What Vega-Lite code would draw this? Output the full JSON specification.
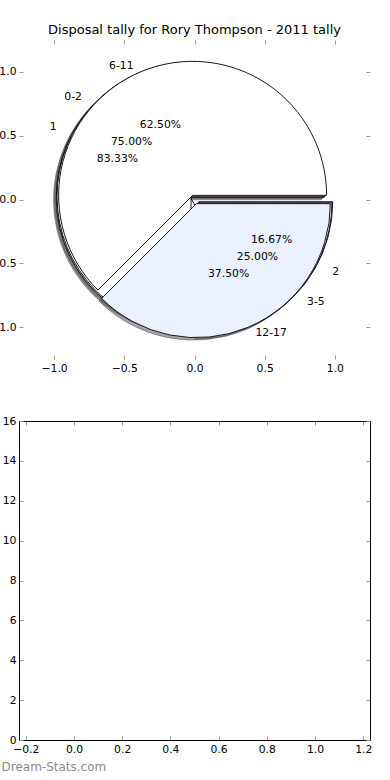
{
  "$schema": "https://vega.github.io/schema/vega-lite/v6.json",
  "autosize": {"type": "none"},
  "padding": {"left": 19, "top": 40, "right": 371, "bottom": 740},
  "bounds": "flush",
  "spacing": 62,
  "config": {
    "view": {"stroke": null},
    "font": "DejaVu Sans",
    "axis": {"grid": false, "labelFont": "DejaVu Sans", "labelFontSize": 10.8, "labelColor": "#000", "tickColor": "#9a9a9a", "tickWidth": 1, "tickSize": -4, "labelPadding": 7, "domainColor": "#000", "domainWidth": 1},
    "text": {"font": "DejaVu Sans", "fontSize": 10.8, "color": "#000"}
  },
  "datasets": {
    "tally": [
      {"pie": "A", "label": "6-11", "value": 0.625, "order": 1},
      {"pie": "A", "label": "12-17", "value": 0.375, "order": 2},
      {"pie": "B", "label": "0-2", "value": 0.75, "order": 1},
      {"pie": "B", "label": "3-5", "value": 0.25, "order": 2},
      {"pie": "C", "label": "1", "value": 0.8333, "order": 1},
      {"pie": "C", "label": "2", "value": 0.1667, "order": 2}
    ]
  },
  "vconcat": [
    {
      "width": 351,
      "height": 319,
      "title": {"text": "Disposal tally for Rory Thompson - 2011 tally", "font": "DejaVu Sans", "fontSize": 13, "fontWeight": "normal", "color": "#000", "offset": 3},
      "data": {"name": "tally"},
      "resolve": {"axis": {"x": "independent", "y": "independent"}},
      "layer": [
        {
          "mark": {"type": "point", "opacity": 0},
          "encoding": {
            "x": {"datum": 0, "type": "quantitative", "scale": {"domain": [-1.25, 1.25], "nice": false, "zero": false}, "axis": {"orient": "bottom", "values": [-1, -0.5, 0, 0.5, 1], "format": ".1f", "title": null, "domain": false}},
            "y": {"datum": 0, "type": "quantitative", "scale": {"domain": [-1.25, 1.25], "nice": false, "zero": false}, "axis": {"orient": "left", "values": [-1, -0.5, 0, 0.5, 1], "format": ".1f", "title": null, "domain": false}}
          }
        },
        {
          "mark": {"type": "point", "opacity": 0},
          "encoding": {
            "x": {"datum": 0, "type": "quantitative", "axis": {"orient": "top", "values": [-1, -0.5, 0, 0.5, 1], "labels": false, "title": null, "domain": false}},
            "y": {"datum": 0, "type": "quantitative", "axis": {"orient": "right", "values": [-1, -0.5, 0, 0.5, 1], "labels": false, "title": null, "domain": false}}
          }
        },
        {
          "transform": [{"filter": "datum.pie === 'C'"}],
          "mark": {"type": "arc", "radius": 134, "fill": "#4d4d4d", "fillOpacity": 0.5, "stroke": "#4d4d4d", "strokeOpacity": 0.5, "strokeWidth": 0.9,
            "xOffset": {"expr": "4.9*cos(PI*(datum.value_start+datum.value_end))-2.8"},
            "yOffset": {"expr": "2.55-4.5*sin(PI*(datum.value_start+datum.value_end))"}},
          "encoding": {
            "theta": {"field": "value", "type": "quantitative", "stack": "normalize", "scale": {"domain": [0, 1], "range": [1.5708, -4.7124]}},
            "order": {"field": "order", "type": "quantitative"},
            "x": {"datum": 0, "type": "quantitative", "axis": null},
            "y": {"datum": 0, "type": "quantitative", "axis": null}
          }
        },
        {
          "transform": [{"filter": "datum.pie === 'B'"}],
          "mark": {"type": "arc", "radius": 134, "fill": "#4d4d4d", "fillOpacity": 0.5, "stroke": "#4d4d4d", "strokeOpacity": 0.5, "strokeWidth": 0.9,
            "xOffset": {"expr": "4.9*cos(PI*(datum.value_start+datum.value_end))-2.8"},
            "yOffset": {"expr": "2.55-4.5*sin(PI*(datum.value_start+datum.value_end))"}},
          "encoding": {
            "theta": {"field": "value", "type": "quantitative", "stack": "normalize"},
            "order": {"field": "order", "type": "quantitative"},
            "x": {"datum": 0, "type": "quantitative", "axis": null},
            "y": {"datum": 0, "type": "quantitative", "axis": null}
          }
        },
        {
          "transform": [{"filter": "datum.pie === 'A'"}],
          "mark": {"type": "arc", "radius": 134, "fill": "#4d4d4d", "fillOpacity": 0.5, "stroke": "#4d4d4d", "strokeOpacity": 0.5, "strokeWidth": 0.9,
            "xOffset": {"expr": "4.9*cos(PI*(datum.value_start+datum.value_end))-2.8"},
            "yOffset": {"expr": "2.55-4.5*sin(PI*(datum.value_start+datum.value_end))"}},
          "encoding": {
            "theta": {"field": "value", "type": "quantitative", "stack": "normalize"},
            "order": {"field": "order", "type": "quantitative"},
            "x": {"datum": 0, "type": "quantitative", "axis": null},
            "y": {"datum": 0, "type": "quantitative", "axis": null}
          }
        },
        {
          "transform": [{"filter": "datum.pie === 'C'"}],
          "mark": {"type": "arc", "radius": 134, "stroke": "#000", "strokeWidth": 0.9,
            "xOffset": {"expr": "4.9*cos(PI*(datum.value_start+datum.value_end))"},
            "yOffset": {"expr": "-4.5*sin(PI*(datum.value_start+datum.value_end))"}},
          "encoding": {
            "theta": {"field": "value", "type": "quantitative", "stack": "normalize"},
            "order": {"field": "order", "type": "quantitative"},
            "color": {"field": "order", "type": "nominal", "scale": {"domain": [1, 2], "range": ["#ffffff", "#eaf0fd"]}, "legend": null},
            "x": {"datum": 0, "type": "quantitative", "axis": null},
            "y": {"datum": 0, "type": "quantitative", "axis": null}
          }
        },
        {
          "transform": [{"filter": "datum.pie === 'B'"}],
          "mark": {"type": "arc", "radius": 134, "stroke": "#000", "strokeWidth": 0.9,
            "xOffset": {"expr": "4.9*cos(PI*(datum.value_start+datum.value_end))"},
            "yOffset": {"expr": "-4.5*sin(PI*(datum.value_start+datum.value_end))"}},
          "encoding": {
            "theta": {"field": "value", "type": "quantitative", "stack": "normalize"},
            "order": {"field": "order", "type": "quantitative"},
            "color": {"field": "order", "type": "nominal", "legend": null},
            "x": {"datum": 0, "type": "quantitative", "axis": null},
            "y": {"datum": 0, "type": "quantitative", "axis": null}
          }
        },
        {
          "transform": [{"filter": "datum.pie === 'A'"}],
          "mark": {"type": "arc", "radius": 134, "stroke": "#000", "strokeWidth": 0.9,
            "xOffset": {"expr": "4.9*cos(PI*(datum.value_start+datum.value_end))"},
            "yOffset": {"expr": "-4.5*sin(PI*(datum.value_start+datum.value_end))"}},
          "encoding": {
            "theta": {"field": "value", "type": "quantitative", "stack": "normalize"},
            "order": {"field": "order", "type": "quantitative"},
            "color": {"field": "order", "type": "nominal", "legend": null},
            "x": {"datum": 0, "type": "quantitative", "axis": null},
            "y": {"datum": 0, "type": "quantitative", "axis": null}
          }
        },
        {
          "transform": [{"filter": "datum.pie === 'A'"}],
          "encoding": {
            "theta": {"field": "value", "type": "quantitative", "stack": "normalize"},
            "order": {"field": "order", "type": "quantitative"},
            "x": {"datum": 0, "type": "quantitative", "axis": null},
            "y": {"datum": 0, "type": "quantitative", "axis": null}
          },
          "layer": [
            {"mark": {"type": "text", "radius": 0, "baseline": "middle", "align": {"expr": "datum.order == 1 ? 'right' : 'left'"},
              "xOffset": {"expr": "159.2*cos(PI*(datum.value_start+datum.value_end))"},
              "yOffset": {"expr": "-144.7*sin(PI*(datum.value_start+datum.value_end))"}},
              "encoding": {"text": {"field": "label", "type": "nominal"}}},
            {"mark": {"type": "text", "radius": 0, "baseline": "middle", "align": "center",
              "xOffset": {"expr": "89*cos(PI*(datum.value_start+datum.value_end))"},
              "yOffset": {"expr": "-80.9*sin(PI*(datum.value_start+datum.value_end))"}},
              "encoding": {"text": {"field": "value", "type": "quantitative", "format": ".2%"}}}
          ]
        },
        {
          "transform": [{"filter": "datum.pie === 'B'"}],
          "encoding": {
            "theta": {"field": "value", "type": "quantitative", "stack": "normalize"},
            "order": {"field": "order", "type": "quantitative"},
            "x": {"datum": 0, "type": "quantitative", "axis": null},
            "y": {"datum": 0, "type": "quantitative", "axis": null}
          },
          "layer": [
            {"mark": {"type": "text", "radius": 0, "baseline": "middle", "align": {"expr": "datum.order == 1 ? 'right' : 'left'"},
              "xOffset": {"expr": "159.2*cos(PI*(datum.value_start+datum.value_end))"},
              "yOffset": {"expr": "-144.7*sin(PI*(datum.value_start+datum.value_end))"}},
              "encoding": {"text": {"field": "label", "type": "nominal"}}},
            {"mark": {"type": "text", "radius": 0, "baseline": "middle", "align": "center",
              "xOffset": {"expr": "89*cos(PI*(datum.value_start+datum.value_end))"},
              "yOffset": {"expr": "-80.9*sin(PI*(datum.value_start+datum.value_end))"}},
              "encoding": {"text": {"field": "value", "type": "quantitative", "format": ".2%"}}}
          ]
        },
        {
          "transform": [{"filter": "datum.pie === 'C'"}],
          "encoding": {
            "theta": {"field": "value", "type": "quantitative", "stack": "normalize"},
            "order": {"field": "order", "type": "quantitative"},
            "x": {"datum": 0, "type": "quantitative", "axis": null},
            "y": {"datum": 0, "type": "quantitative", "axis": null}
          },
          "layer": [
            {"mark": {"type": "text", "radius": 0, "baseline": "middle", "align": {"expr": "datum.order == 1 ? 'right' : 'left'"},
              "xOffset": {"expr": "159.2*cos(PI*(datum.value_start+datum.value_end))"},
              "yOffset": {"expr": "-144.7*sin(PI*(datum.value_start+datum.value_end))"}},
              "encoding": {"text": {"field": "label", "type": "nominal"}}},
            {"mark": {"type": "text", "radius": 0, "baseline": "middle", "align": "center",
              "xOffset": {"expr": "89*cos(PI*(datum.value_start+datum.value_end))"},
              "yOffset": {"expr": "-80.9*sin(PI*(datum.value_start+datum.value_end))"}},
              "encoding": {"text": {"field": "value", "type": "quantitative", "format": ".2%"}}}
          ]
        }
      ]
    },
    {
      "width": 351,
      "height": 319,
      "data": {"values": []},
      "resolve": {"axis": {"x": "independent", "y": "independent"}},
      "layer": [
        {
          "mark": {"type": "point", "opacity": 0},
          "encoding": {
            "x": {"field": "x", "type": "quantitative", "scale": {"domain": [-0.228, 1.228], "nice": false, "zero": false},
              "axis": {"orient": "bottom", "values": [-0.2, 0, 0.2, 0.4, 0.6, 0.8, 1, 1.2], "format": ".1f", "domain": true,
                "title": "Dream-Stats.com", "titleAnchor": "start", "titleAlign": "left", "titleX": -18, "titleY": 30, "titleBaseline": "alphabetic",
                "titleColor": "#8c8c8c", "titleFont": "DejaVu Sans", "titleFontSize": 12, "titleFontWeight": "normal"}},
            "y": {"field": "y", "type": "quantitative", "scale": {"domain": [0, 16], "nice": false, "zero": false},
              "axis": {"orient": "left", "values": [0, 2, 4, 6, 8, 10, 12, 14, 16], "format": "d", "domain": true, "title": null}}
          }
        },
        {
          "mark": {"type": "point", "opacity": 0},
          "encoding": {
            "x": {"field": "x", "type": "quantitative", "axis": {"orient": "top", "values": [-0.2, 0, 0.2, 0.4, 0.6, 0.8, 1, 1.2], "labels": false, "domain": true, "title": null}},
            "y": {"field": "y", "type": "quantitative", "axis": {"orient": "right", "values": [0, 2, 4, 6, 8, 10, 12, 14, 16], "labels": false, "domain": true, "title": null}}
          }
        }
      ]
    }
  ]
}
